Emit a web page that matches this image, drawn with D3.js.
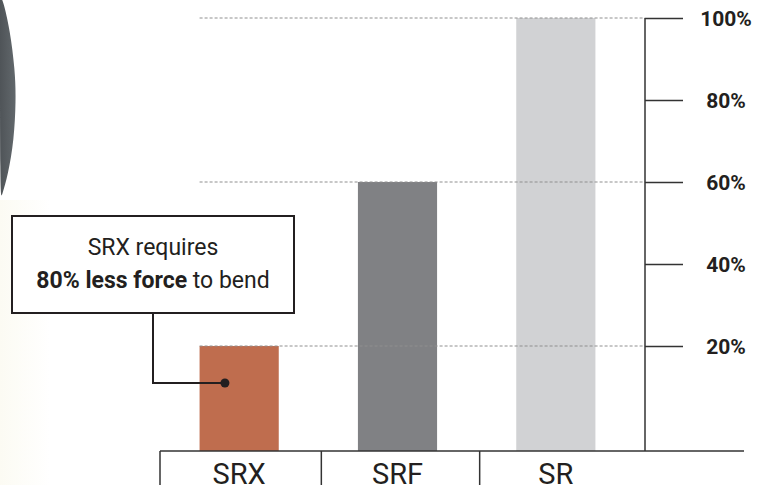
<!DOCTYPE html>
<html>
<head>
<meta charset="utf-8">
<script src="https://cdn.jsdelivr.net/npm/d3@7"></script>
<style>
  html, body { margin: 0; padding: 0; background: #fff; }
  svg { display: block; font-family: Roboto, "Liberation Sans", sans-serif; }
</style>
</head>
<body>
<div id="chart-area"></div>
<script>
const categories = ["SRX", "SRF", "SR"];
const forceValues = [20, 60, 100];
const barColors = ["#bf6d4e", "#808184", "#d1d2d4"];
const tickValues = [20, 40, 60, 80, 100];
const noteLine1 = "SRX requires";
const noteBold = "80% less force";
const noteRest = " to bend";

const width = 769, height = 485;
const baseline = 451,
    axisX = 645;

const svg = d3.select("#chart-area")
    .append("svg")
    .attr("width", width)
    .attr("height", height);

// faint warm wash on the lower left edge
const defs = svg.append("defs");
const wash = defs.append("linearGradient").attr("id", "wash");
wash.append("stop").attr("offset", "0%").attr("stop-color", "#fcfbf3");
wash.append("stop").attr("offset", "100%").attr("stop-color", "#ffffff");
const shade = defs.append("linearGradient").attr("id", "shade")
    .attr("x1", 0).attr("x2", 1).attr("y1", 0).attr("y2", 0);
shade.append("stop").attr("offset", "0%").attr("stop-color", "#4f5458");
shade.append("stop").attr("offset", "100%").attr("stop-color", "#62686c");

svg.append("rect")
    .attr("x", 0).attr("y", 200)
    .attr("width", 50).attr("height", height - 200)
    .attr("fill", "url(#wash)");

// dark rim of the round object cropped at the left edge
svg.append("path")
    .attr("d", d3.line().curve(d3.curveBasis)([
        [0, -4], [3, 0], [10, 30], [15, 70], [16, 100], [14, 140], [8, 175], [2, 195], [0, 202], [0, -4]
    ]))
    .attr("fill", "url(#shade)");

const x = d3.scaleBand()
    .domain(categories)
    .range([160, 635])
    .paddingInner(0.5)
    .paddingOuter(0.25);

const y = d3.scaleLinear()
    .domain([0, 100])
    .range([428, 18]);

const color = d3.scaleOrdinal().domain(categories).range(barColors);

const data = categories.map((c, i) => ({ name: c, value: forceValues[i] }));

// bars
svg.selectAll(".bar")
    .data(data)
    .enter().append("rect")
    .attr("class", "bar")
    .attr("x", d => x(d.name))
    .attr("y", d => y(d.value))
    .attr("width", x.bandwidth())
    .attr("height", d => baseline - y(d.value))
    .attr("fill", d => color(d.name));

// dotted guides from each bar top to the axis
svg.selectAll(".guide")
    .data(data)
    .enter().append("line")
    .attr("class", "guide")
    .attr("x1", x(categories[0]))
    .attr("x2", axisX)
    .attr("y1", d => y(d.value))
    .attr("y2", d => y(d.value))
    .attr("stroke", "#8f8f8f")
    .attr("stroke-width", 1)
    .attr("stroke-dasharray", "3,2");

// right axis
const axis = d3.axisRight(y)
    .tickValues(tickValues)
    .tickSize(38)
    .tickFormat(d => d + "%");

const axisG = svg.append("g")
    .attr("transform", `translate(${axisX},0)`)
    .call(axis);

axisG.select(".domain").remove();
axisG.selectAll(".tick line")
    .attr("stroke", "#333")
    .attr("stroke-width", 1.5);
axisG.selectAll(".tick text")
    .attr("x", 81)
    .attr("dy", "0.36em")
    .attr("text-anchor", "middle")
    .attr("font-family", "Roboto, sans-serif")
    .attr("font-size", "21px")
    .attr("font-weight", "bold")
    .attr("fill", "#231f20");

svg.append("line")
    .attr("x1", axisX).attr("x2", axisX)
    .attr("y1", y(100)).attr("y2", baseline)
    .attr("stroke", "#333")
    .attr("stroke-width", 1.5);

// category strip
svg.append("line")
    .attr("x1", x(categories[0]) - x.step() * 0.25).attr("x2", 744)
    .attr("y1", baseline).attr("y2", baseline)
    .attr("stroke", "#333")
    .attr("stroke-width", 1.5);

svg.selectAll(".divider")
    .data(categories)
    .enter().append("line")
    .attr("class", "divider")
    .attr("x1", d => x(d) - x.step() * 0.25 + (d === "SRX" ? 0 : 3))
    .attr("x2", d => x(d) - x.step() * 0.25 + (d === "SRX" ? 0 : 3))
    .attr("y1", baseline)
    .attr("y2", height)
    .attr("stroke", "#333")
    .attr("stroke-width", 1.5);

svg.selectAll(".cat-label")
    .data(categories)
    .enter().append("text")
    .attr("class", "cat-label")
    .attr("x", d => x(d) + x.bandwidth() / 2)
    .attr("y", 484)
    .attr("text-anchor", "middle")
    .attr("font-size", "29px")
    .attr("fill", "#231f20")
    .text(d => d);

// annotation box
const note = svg.append("g").attr("class", "note");
note.append("rect")
    .attr("x", 12).attr("y", 216)
    .attr("width", 282).attr("height", 97)
    .attr("fill", "#fff")
    .attr("stroke", "#231f20")
    .attr("stroke-width", 2);

note.append("text")
    .attr("x", 153).attr("y", 255)
    .attr("text-anchor", "middle")
    .attr("font-size", "23px")
    .attr("fill", "#231f20")
    .text(noteLine1);

const line2 = note.append("text")
    .attr("x", 153).attr("y", 288)
    .attr("text-anchor", "middle")
    .attr("font-size", "23px")
    .attr("fill", "#231f20");
line2.append("tspan").attr("font-weight", "bold").text(noteBold);
line2.append("tspan").text(noteRest);

const dotX = x("SRX") + x.bandwidth() * 0.32,
    dotY = 383;

note.append("path")
    .attr("d", `M153,313 V${dotY} H${dotX}`)
    .attr("fill", "none")
    .attr("stroke", "#231f20")
    .attr("stroke-width", 2);

note.append("circle")
    .attr("cx", dotX).attr("cy", dotY)
    .attr("r", 4.5)
    .attr("fill", "#231f20");
</script>
</body>
</html>
